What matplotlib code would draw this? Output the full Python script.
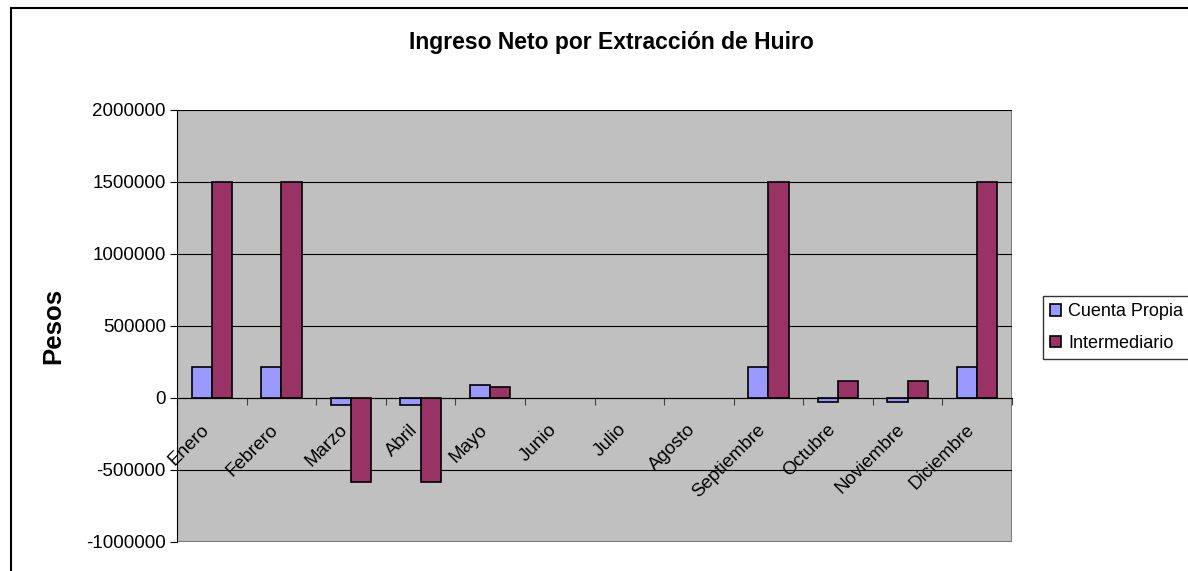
import numpy as np
import matplotlib.pyplot as plt
from matplotlib.patches import Rectangle
from matplotlib.ticker import FuncFormatter

plt.rcParams['font.family'] = ['Liberation Sans', 'DejaVu Sans']

meses = ["Enero", "Febrero", "Marzo", "Abril", "Mayo", "Junio", "Julio",
         "Agosto", "Septiembre", "Octubre", "Noviembre", "Diciembre"]
cuenta_propia = [215000, 215000, -50000, -50000, 90000, 0, 0, 0,
                 215000, -25000, -25000, 215000]
intermediario = [1500000, 1500000, -583000, -583000, 76000, 0, 0, 0,
                 1500000, 115000, 115000, 1500000]
yticks = [-1000000, -500000, 0, 500000, 1000000, 1500000, 2000000]

fig = plt.figure(figsize=(11.88, 5.71), dpi=100)
ax = fig.add_axes([177/1188, 1-542/571, (1012-177)/1188, (542-110)/571])

# marco del grafico
fig.patches.append(Rectangle((11/1188, -0.05), 1.2, 1-8/571+0.05,
                             transform=fig.transFigure, fill=False,
                             edgecolor='black', linewidth=1.5))

x = np.arange(len(meses))
w = 0.29
ax.set_facecolor('#C0C0C0')
bordes_cp = ['black' if v != 0 else 'none' for v in cuenta_propia]
bordes_in = ['black' if v != 0 else 'none' for v in intermediario]
ax.bar(x - w/2, cuenta_propia, w, color='#9999FF', edgecolor=bordes_cp,
       linewidth=1.2, label='Cuenta Propia', zorder=3)
ax.bar(x + w/2, intermediario, w, color='#993366', edgecolor=bordes_in,
       linewidth=1.2, label='Intermediario', zorder=3)

ax.set_xlim(-0.5, len(meses) - 0.5)
ax.set_ylim(-1000000, 2000000)
ax.set_yticks(yticks)
ax.yaxis.set_major_formatter(FuncFormatter(lambda v, p: "%d" % v))
ax.tick_params(axis='y', labelsize=13.5, length=5, direction='out', pad=3)
ax.yaxis.grid(True, color='black', linewidth=0.8, zorder=1)
ax.set_axisbelow(True)

# eje de categorias cruza en cero
ax.spines['bottom'].set_position(('data', 0))
ax.spines['bottom'].set_zorder(4)
ax.spines['top'].set_visible(False)
ax.spines['right'].set_visible(False)
ax.set_xticks(np.arange(len(meses) + 1) - 0.5)
ax.set_xticklabels([])
ax.tick_params(axis='x', length=5, direction='out', color='#404040')
ax.add_patch(Rectangle((0, 0), 1, 1, transform=ax.transAxes, fill=False,
                       edgecolor='#808080', linewidth=1.5, zorder=0.5))

for i, m in enumerate(meses):
    ax.annotate(m, (i, 0), xytext=(-4, -21), textcoords='offset points',
                rotation=45, rotation_mode='anchor', ha='right', va='center',
                fontsize=13.5, zorder=5)

ax.set_ylabel('Pesos', fontsize=18.5, fontweight='bold', va='center')
ax.yaxis.set_label_coords(-0.148, 0.5)
fig.text(611/1188, 1-42/571, 'Ingreso Neto por Extracción de Huiro',
         ha='center', va='center', fontsize=16.5, fontweight='bold')

leg = fig.legend(loc='upper left', bbox_to_anchor=(1043/1188, 1-296/571),
                 fontsize=13, frameon=True, fancybox=False, edgecolor='black',
                 handlelength=0.6, handleheight=0.6, handletextpad=0.4,
                 borderpad=0.4, borderaxespad=0, labelspacing=0.8)
leg.get_frame().set_linewidth(1.0)

fig.savefig('out.png', dpi=100)
